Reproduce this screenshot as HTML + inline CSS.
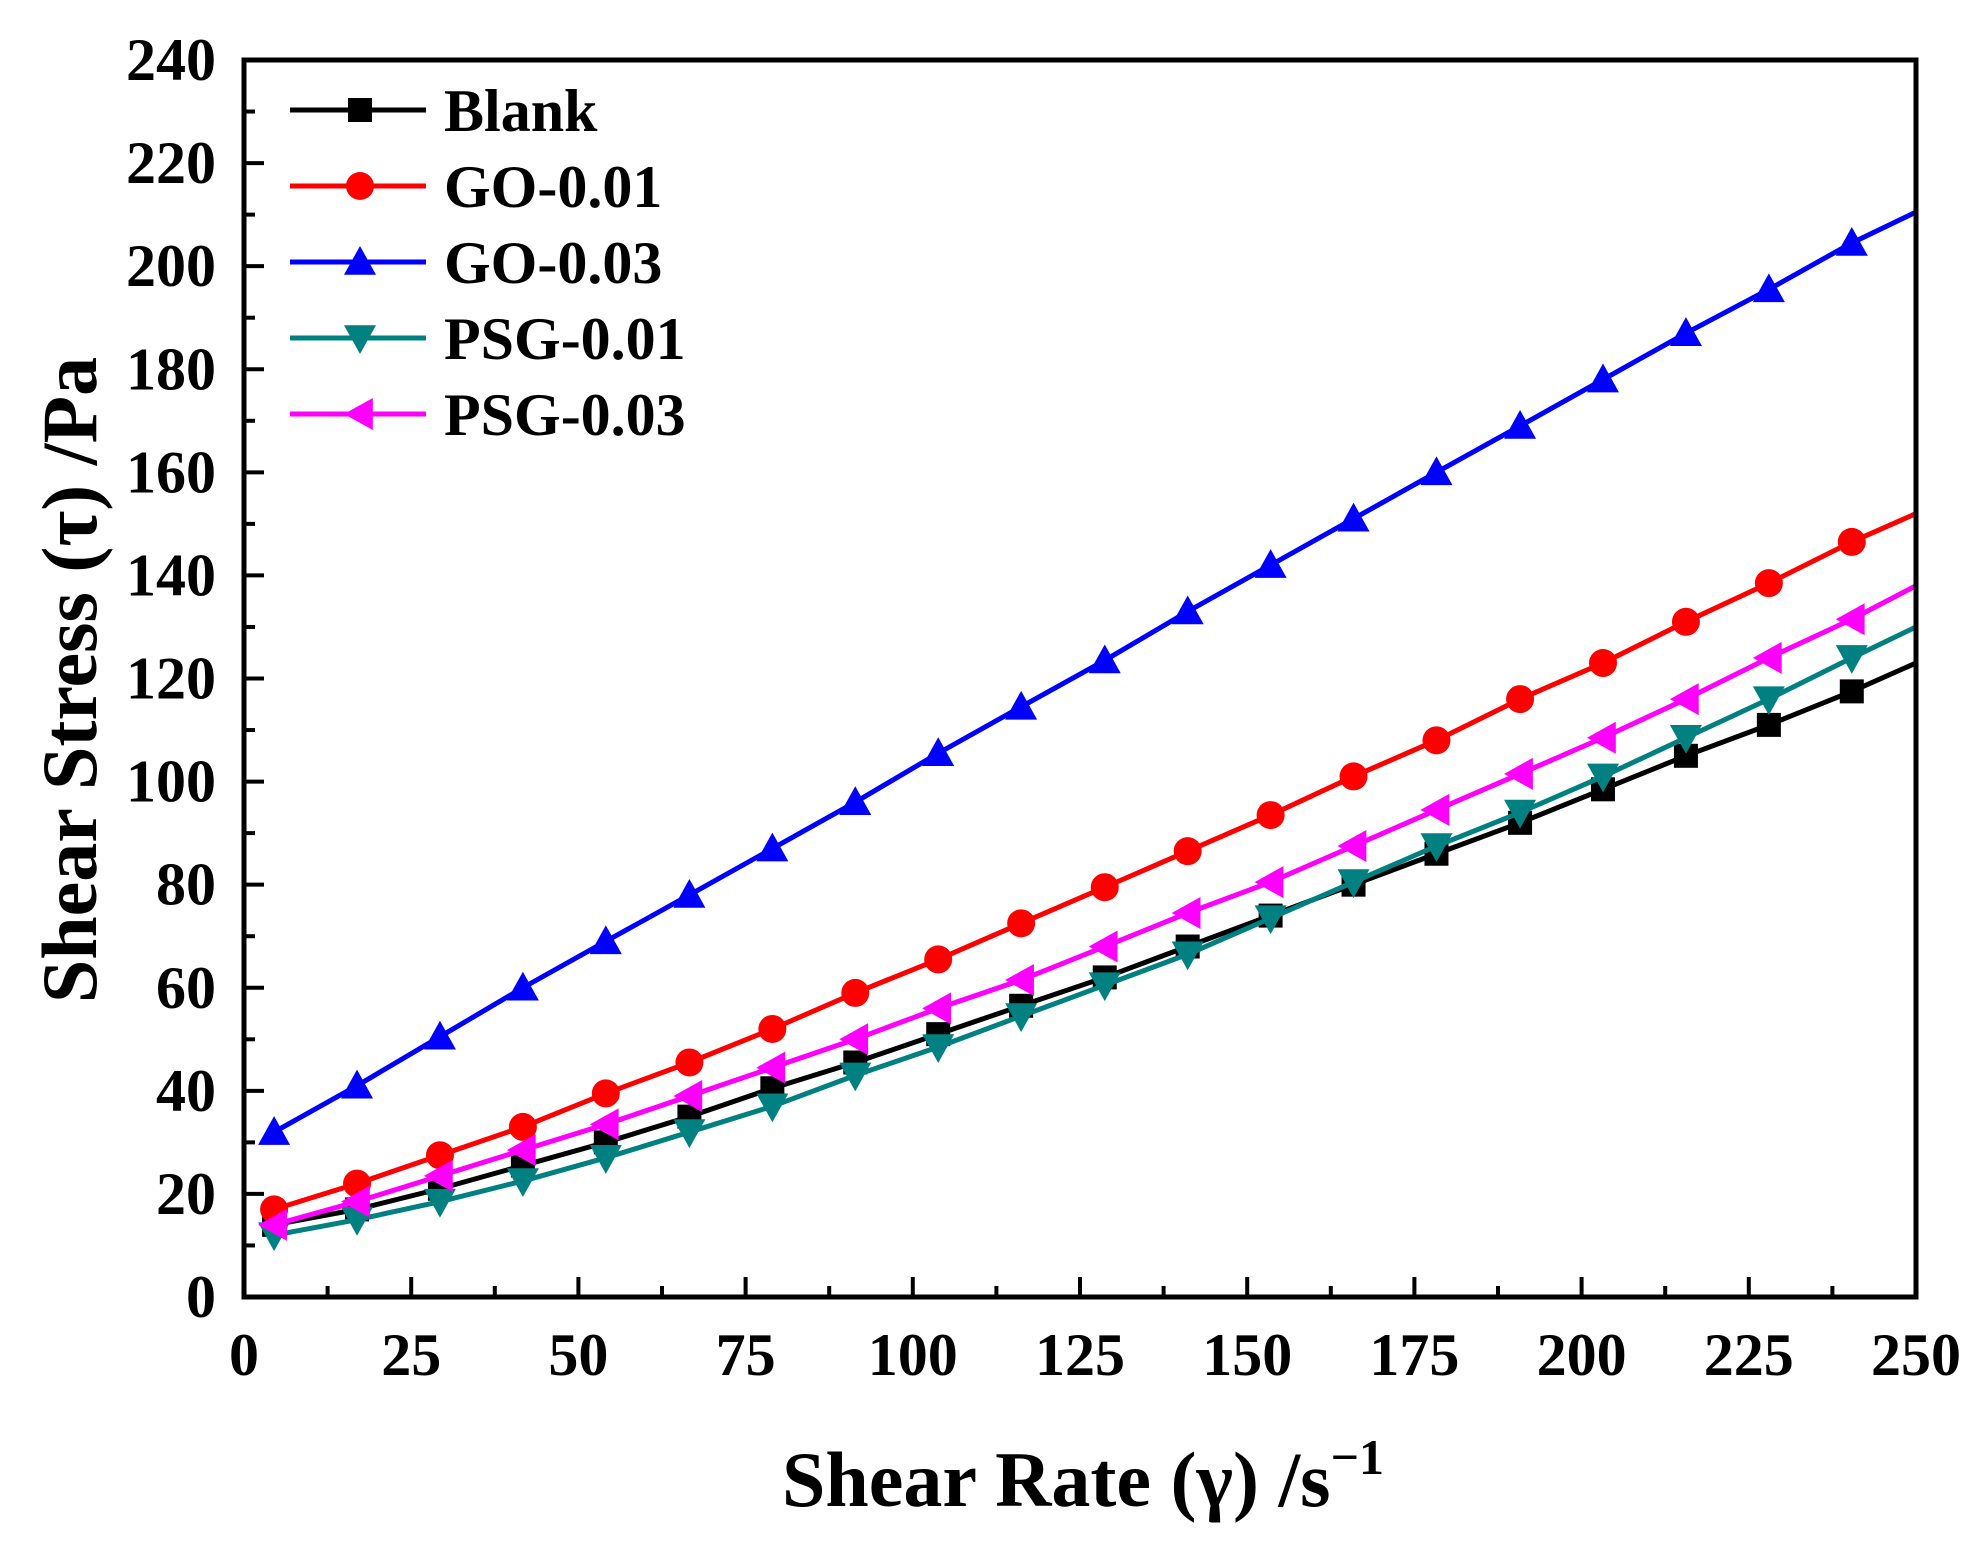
<!DOCTYPE html>
<html><head><meta charset="utf-8"><style>
html,body{margin:0;padding:0;background:#fff;}
svg{display:block;}
text{font-family:"Liberation Serif",serif;font-weight:bold;fill:#000;}
</style></head><body>
<svg id="chart" width="1988" height="1556" viewBox="0 0 1988 1556" xmlns="http://www.w3.org/2000/svg">
<rect width="1988" height="1556" fill="#fff"/>
<g id="plot"></g>
<text transform="translate(96,680) rotate(-90)" text-anchor="middle" font-size="78">Shear Stress (τ) /Pa</text>
<text x="1083" y="1506" text-anchor="middle" font-size="78">Shear Rate (γ) /s<tspan font-size="50" dy="-32">−1</tspan></text>
</svg>
<script>
const xTicks=[0,25,50,75,100,125,150,175,200,225,250];
const yTicks=[0,20,40,60,80,100,120,140,160,180,200,220,240];
const seriesNames=["Blank","GO-0.01","GO-0.03","PSG-0.01","PSG-0.03"];
const seriesColors=["#000000","#ff0000","#0000ff","#008080","#ff00ff"];
const markers=["square","circle","up","down","left"];
const rates=[4.5,16.9,29.3,41.7,54.1,66.6,79.0,91.4,103.8,116.2,128.7,141.1,153.5,165.9,178.3,190.8,203.2,215.6,228.0,240.4,250];
const blank=[14,17,21,25.5,30,35,40.5,45.5,51,56.5,62,68,74,80,86,92,98.5,105,111,117.5,123];
const go001=[17,22,27.5,33,39.5,45.5,52,59,65.5,72.5,79.5,86.5,93.5,101,108,116,123,131,138.5,146.5,152];
const go003=[32,41,50.5,60,69,78,87,96,105.5,114.5,123.5,133,142,151,160,169,178,187,195.5,204.5,210.5];
const psg001=[12,15,18.5,22.5,27,32,37,43,48.5,54.5,60.5,66.5,73.5,80.5,87.5,94,101,108.5,116,124,130];
const psg003=[14,18.5,23.5,28.5,33.5,39,44.5,50,56,61.5,68,74.5,80.5,87.5,94.5,101.5,108.5,116,124,131.5,138];
const allSeries=[blank,go001,go003,psg001,psg003];

const X0=244,X1=1916,Y0=1297,Y1=60;
const sx=v=>X0+(v-0)/(250-0)*(X1-X0);
const sy=v=>Y0-(v-0)/(240-0)*(Y0-Y1);
const NS="http://www.w3.org/2000/svg";
const g=document.getElementById('plot');
function mk(tag,attrs,parent){const e=document.createElementNS(NS,tag);for(const k in attrs)e.setAttribute(k,attrs[k]);(parent||g).appendChild(e);return e;}

function marker(type,cx,cy,color,parent){
  const s=16;let e;
  if(type==="square")e=mk('rect',{x:cx-12,y:cy-12,width:24,height:24,fill:color},parent);
  else if(type==="circle")e=mk('circle',{cx:cx,cy:cy,r:14,fill:color},parent);
  else if(type==="up")e=mk('polygon',{points:`${cx},${cy-s} ${cx+s},${cy+s*0.8} ${cx-s},${cy+s*0.8}`,fill:color},parent);
  else if(type==="down")e=mk('polygon',{points:`${cx},${cy+s} ${cx+s},${cy-s*0.8} ${cx-s},${cy-s*0.8}`,fill:color},parent);
  else e=mk('polygon',{points:`${cx-s},${cy} ${cx+s*0.8},${cy-s} ${cx+s*0.8},${cy+s}`,fill:color},parent);
  return e;
}

allSeries.forEach((vals,si)=>{
  const grp=mk('g',{});
  
  
  const pts=vals.map((v,i)=>sx(rates[i])+','+sy(v)).join(' ');
  const pl=mk('polyline',{points:pts,fill:'none',stroke:seriesColors[si],'stroke-width':5},grp);
  
  
  vals.forEach((v,i)=>{
    if(i===vals.length-1)return;
    const m=marker(markers[si],sx(rates[i]),sy(v),seriesColors[si],grp);
    
    
  });
});

const fr=mk('rect',{x:X0,y:Y1,width:X1-X0,height:Y0-Y1,fill:'none',stroke:'#000','stroke-width':5});



xTicks.forEach((t,i)=>{
  const x=sx(t);
  const tk=mk('line',{x1:x,y1:Y0,x2:x,y2:Y0-20,stroke:'#000','stroke-width':4});
  
  
  if(i<xTicks.length-1){const xm=sx(t+12.5);mk('line',{x1:xm,y1:Y0,x2:xm,y2:Y0-11,stroke:'#000','stroke-width':4});}
  const lb=mk('text',{x:x,y:Y0+78,'text-anchor':'middle','font-size':60});
  lb.textContent=t;
  
  
});
yTicks.forEach((t,i)=>{
  const y=sy(t);
  const tk=mk('line',{x1:X0,y1:y,x2:X0+20,y2:y,stroke:'#000','stroke-width':4});
  
  
  if(i<yTicks.length-1){const ym=sy(t+10);mk('line',{x1:X0,y1:ym,x2:X0+11,y2:ym,stroke:'#000','stroke-width':4});}
  const lb=mk('text',{x:X0-28,y:y+20,'text-anchor':'end','font-size':60});
  lb.textContent=t;
  
  
});

const lg=mk('g',{});


seriesNames.forEach((n,i)=>{
  const y=110+i*76;
  const e=mk('g',{},lg);
  
  
  mk('line',{x1:290,y1:y,x2:426,y2:y,stroke:seriesColors[i],'stroke-width':5},e);
  marker(markers[i],360,y,seriesColors[i],e);
  const t=mk('text',{x:444,y:y+21,'font-size':60},e);
  t.textContent=n;
});
</script>
</body></html>
